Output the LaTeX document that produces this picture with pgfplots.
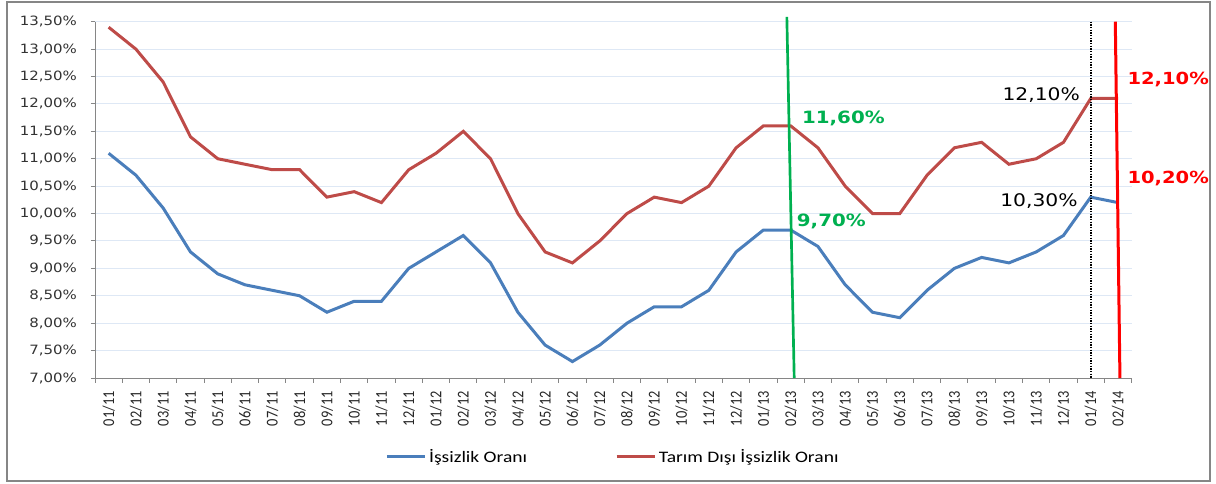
\documentclass[border=0pt]{standalone}
\usepackage{pgfplots}
\pgfplotsset{compat=1.18}
\usepackage{fontspec}
\setmainfont{Carlito}
\newfontfamily\verd{DejaVu Sans}[FakeStretch=1.17]
\newfontfamily\legfont{Carlito}[FakeStretch=1.22]
\definecolor{sblue}{RGB}{74,126,187}
\definecolor{sred}{RGB}{190,75,72}
\definecolor{agreen}{RGB}{0,176,80}
\definecolor{ared}{RGB}{255,0,0}
\definecolor{axgray}{RGB}{134,134,134}
\definecolor{framegray}{RGB}{134,134,134}
\definecolor{gridcol}{RGB}{222,232,245}
\begin{document}
\begin{tikzpicture}[x=1pt,y=1pt]
\path[use as bounding box] (0,0) rectangle (912,362.25);
\draw[framegray, line width=1.5pt] (5.25,1.5) rectangle (907.5,360.75);
\begin{axis}[
  at={(71.25pt,78.75pt)}, anchor=south west,
  scale only axis, width=777.5pt, height=267.2pt,
  xmin=-0.5, xmax=37.5, ymin=7, ymax=13.5,
  clip=false,
  axis lines=left,
  axis line style={-, draw=axgray, line width=0.75pt},
  tick align=outside,
  xtick={0,...,37},
  xticklabels={01/11,02/11,03/11,04/11,05/11,06/11,07/11,08/11,09/11,10/11,11/11,12/11,
               01/12,02/12,03/12,04/12,05/12,06/12,07/12,08/12,09/12,10/12,11/12,12/12,
               01/13,02/13,03/13,04/13,05/13,06/13,07/13,08/13,09/13,10/13,11/13,12/13,
               01/14,02/14},
  major x tick style={draw=none},
  minor xtick={-0.5,0.5,...,37.5},
  minor x tick style={draw=axgray, line width=0.75pt},
  minor tick length=3.5pt,
  ytick={7,7.5,8,8.5,9,9.5,10,10.5,11,11.5,12,12.5,13,13.5},
  major y tick style={draw=axgray, line width=0.75pt},
  major tick length=3pt,
  ymajorgrids,
  grid style={gridcol, line width=0.75pt},
  yticklabel={\pgfmathprintnumber[fixed,fixed zerofill,precision=2,use comma,assume math mode=true]{\tick}\%},
  yticklabel style={font=\verd\fontsize{9.6}{11}\selectfont, text=black!80},
  yticklabel shift=7pt,
  xticklabel style={font=\fontsize{10.8}{12}\selectfont, rotate=90, anchor=east, yscale=1.15, text=black!85},
  xticklabel shift=3.5pt,
  legend style={at={(0.5,-0.2217)}, anchor=center, draw=none, fill=none,
    legend columns=2, font=\legfont\fontsize{12}{14}\selectfont,
    /tikz/every even column/.append style={column sep=64pt}},
  legend image code/.code={\draw[#1] (0pt,0pt) -- (28.5pt,0pt);},
]
\addplot[sblue, line width=2.25pt] coordinates {
(0,11.1) (1,10.7) (2,10.1) (3,9.3) (4,8.9) (5,8.7) (6,8.6) (7,8.5) (8,8.2) (9,8.4) (10,8.4) (11,9.0)
(12,9.3) (13,9.6) (14,9.1) (15,8.2) (16,7.6) (17,7.3) (18,7.6) (19,8.0) (20,8.3) (21,8.3) (22,8.6) (23,9.3)
(24,9.7) (25,9.7) (26,9.4) (27,8.7) (28,8.2) (29,8.1) (30,8.6) (31,9.0) (32,9.2) (33,9.1) (34,9.3) (35,9.6)
(36,10.3) (37,10.2)};
\addlegendentry{İşsizlik Oranı}
\addplot[sred, line width=2.25pt] coordinates {
(0,13.4) (1,13.0) (2,12.4) (3,11.4) (4,11.0) (5,10.9) (6,10.8) (7,10.8) (8,10.3) (9,10.4) (10,10.2) (11,10.8)
(12,11.1) (13,11.5) (14,11.0) (15,10.0) (16,9.3) (17,9.1) (18,9.5) (19,10.0) (20,10.3) (21,10.2) (22,10.5) (23,11.2)
(24,11.6) (25,11.6) (26,11.2) (27,10.5) (28,10.0) (29,10.0) (30,10.7) (31,11.2) (32,11.3) (33,10.9) (34,11.0) (35,11.3)
(36,12.1) (37,12.1)};
\addlegendentry{Tarım Dışı İşsizlik Oranı}
\addplot[agreen, line width=2pt, forget plot] coordinates {(24.86,13.59) (25.13,7)};
\addplot[black, line width=1.8pt, dash pattern=on 1pt off 1pt, forget plot] coordinates {(36,13.5) (36,7)};
\addplot[ared, line width=2.25pt, forget plot] coordinates {(36.9,13.5) (37.07,7)};
\node[anchor=west, inner sep=0pt, text=agreen, font=\verd\bfseries\fontsize{12.7}{15}\selectfont] at (axis cs:25.41,11.74) {11,60\%};
\node[anchor=west, inner sep=0pt, text=agreen, font=\verd\bfseries\fontsize{12.7}{15}\selectfont] at (axis cs:25.22,9.85) {9,70\%};
\node[anchor=east, inner sep=0pt, text=black, font=\verd\fontsize{13}{15}\selectfont] at (axis cs:35.61,12.16) {12,10\%};
\node[anchor=east, inner sep=0pt, text=black, font=\verd\fontsize{13}{15}\selectfont] at (axis cs:35.53,10.22) {10,30\%};
\node[anchor=west, inner sep=0pt, text=ared, font=\verd\bfseries\fontsize{12.5}{15}\selectfont] at (axis cs:37.34,12.44) {12,10\%};
\node[anchor=west, inner sep=0pt, text=ared, font=\verd\bfseries\fontsize{12.5}{15}\selectfont] at (axis cs:37.34,10.64) {10,20\%};
\end{axis}
\end{tikzpicture}
\end{document}
